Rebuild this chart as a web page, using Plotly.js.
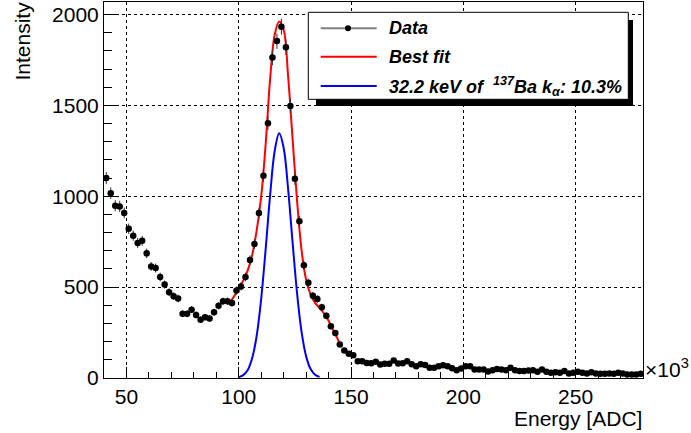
<!DOCTYPE html>
<html><head><meta charset="utf-8">
<script src="https://cdn.plot.ly/plotly-3.0.1.min.js"></script>
<style>html,body{margin:0;padding:0;background:#fff;}#chart{width:691px;height:433px;}</style>
</head><body><div id="chart"></div>
<script>
// Histogram bin centres (x10^3 ADC) and counts
const energy = [41,43,45,47,49,51,53,55,57,59,61,63,65,67,69,71,73,75,77,79,
  81,83,85,87,89,91,93,95,97,99,101,103,105,107,109,111,113,115,117,119,
  121,123,125,127,129,131,133,135,137,139,141,143,145,147,149,151,153,155,157,159,
  161,163,165,167,169,171,173,175,177,179,181,183,185,187,189,191,193,195,197,199,
  201,203,205,207,209,211,213,215,217,219,221,223,225,227,229,231,233,235,237,239,
  241,243,245,247,249,251,253,255,257,259,261,263,265,267,269,271,273,275,277,279];
const intensity = [1100,1017,948,944,908,821,783,743,755,686,614,605,556,514,472,450,437,353,353,376,
  347,321,334,327,362,397,422,422,413,481,504,556,649,737,908,1113,1402,1763,1854,1933,
  1820,1497,1096,862,620,524,452,435,389,342,285,248,184,151,133,125,92,92,83,81,
  89,74,78,78,96,80,81,92,76,65,76,72,56,56,65,70,65,54,43,52,
  65,65,47,47,47,36,43,50,47,43,56,43,38,38,41,43,34,47,34,29,
  31,29,38,25,29,34,29,25,31,25,23,23,25,23,29,25,19,19,19,23];

// Best fit curve
const fitX = [95.5,98,100,102,104,106,108,110,112,114,116,118,120,122,124,126,128,130,132,134,136,138,140,142,144,145];
const fitY = [404,451,495,536,592,678,814,1000,1290,1650,1889,1962,1916,1657,1310,970,700,540,459,413,386,355,315,265,215,190];

// 32.2 keV peak component
const peakX = [100,102,104,106,108,110,112,114,116,118,120,122,124,126,128,130,132,134,136];
const peakY = [5,16,44,110,234,437,712,1010,1249,1347,1266,1037,742,462,251,119,49,18,6];

const xTicks = [50,100,150,200,250];
const yTicks = [0,500,1000,1500,2000];
const legendLabels = ['Data','Best fit','32.2 keV of  <sup>137</sup>Ba k<sub>α</sub>: 10.3%'];
const legendColors = ['#808080','#ff0000','#0000ff'];

const L=104, R=643, T=2, B=378, W=691, H=433;
const px = v => (v-L)/(R-L);
const py = v => (B-v)/(B-T);
const FONT = 'Liberation Sans, Arial, Helvetica, sans-serif';

const traces = [
  {x: fitX, y: fitY, mode:'lines', line:{color:'#ff0000', width:2, shape:'spline', smoothing:1}, hoverinfo:'skip'},
  {x: peakX, y: peakY, mode:'lines', line:{color:'#0000ff', width:2, shape:'spline', smoothing:1}, hoverinfo:'skip'},
  {x: energy, y: intensity, mode:'markers', marker:{color:'#000', size:6.5},
   error_y:{type:'data', array: intensity.map(Math.sqrt), color:'#333', thickness:1, width:0},
   error_x:{type:'constant', value:1, color:'#333', thickness:1, width:0}}
];

const legendRows = [28.3, 56.7, 86];
const shapes = [
  {type:'rect', xref:'paper', yref:'paper', x0:px(316), x1:px(633), y0:py(20), y1:py(106), fillcolor:'#000', line:{width:0}, layer:'above'},
  {type:'rect', xref:'paper', yref:'paper', x0:px(308.3), x1:px(628.3), y0:py(12.3), y1:py(99.3), fillcolor:'#fff', line:{color:'#000', width:1}, layer:'above'}
];
legendRows.forEach((r,i)=>{
  shapes.push({type:'line', xref:'paper', yref:'paper', x0:px(320.7), x1:px(376.7), y0:py(r), y1:py(r), line:{color:legendColors[i], width:2}, layer:'above'});
});
shapes.push({type:'circle', xref:'paper', yref:'paper', x0:px(345), x1:px(351), y0:py(legendRows[0]+3), y1:py(legendRows[0]-3), fillcolor:'#000', line:{width:0}, layer:'above'});

const annotations = [
  {text:'Intensity', xref:'paper', yref:'paper', x:px(22), y:py(0), xanchor:'center', yanchor:'top', textangle:-90, showarrow:false, font:{family:FONT, size:21, color:'#000'}},
  {text:'Energy [ADC]', xref:'paper', yref:'paper', x:px(644), y:py(418), xanchor:'right', yanchor:'middle', showarrow:false, font:{family:FONT, size:21, color:'#000'}},
  {text:'×10<sup>3</sup>', xref:'paper', yref:'paper', x:px(643), y:py(368), xanchor:'left', yanchor:'middle', showarrow:false, font:{family:FONT, size:21, color:'#000'}}
];
legendRows.forEach((r,i)=>{
  annotations.push({text:legendLabels[i], xref:'paper', yref:'paper', x:px(387), y:py(r), xanchor:'left', yanchor:'middle', showarrow:false,
    font:{family:FONT, size:18, color:'#000', weight:'bold', style:'italic'}});
});

const axisCommon = {showline:true, linecolor:'#000', linewidth:1, mirror:true, ticks:'inside', tickcolor:'#000', tickwidth:1,
  showgrid:true, gridcolor:'#000', griddash:'dot', gridwidth:1, zeroline:false, tickfont:{family:FONT, size:21, color:'#000'}, fixedrange:true};

const layout = {
  width:W, height:H, margin:{l:L, r:W-R, t:T, b:H-B}, paper_bgcolor:'#fff', plot_bgcolor:'#fff', showlegend:false,
  xaxis: Object.assign({}, axisCommon, {range:[40,280], tickmode:'array', tickvals:xTicks, ticktext:xTicks.map(String), ticklen:11,
    minor:{ticks:'inside', ticklen:6, tickcolor:'#000', dtick:10, tick0:0, showgrid:false}}),
  yaxis: Object.assign({}, axisCommon, {range:[0,2069], tickmode:'array', tickvals:yTicks, ticktext:yTicks.map(String), ticklen:15,
    minor:{ticks:'inside', ticklen:8, tickcolor:'#000', dtick:100, tick0:0, showgrid:false}}),
  shapes: shapes, annotations: annotations
};

Plotly.newPlot('chart', traces, layout, {displayModeBar:false, staticPlot:true});
</script>
</body></html>
